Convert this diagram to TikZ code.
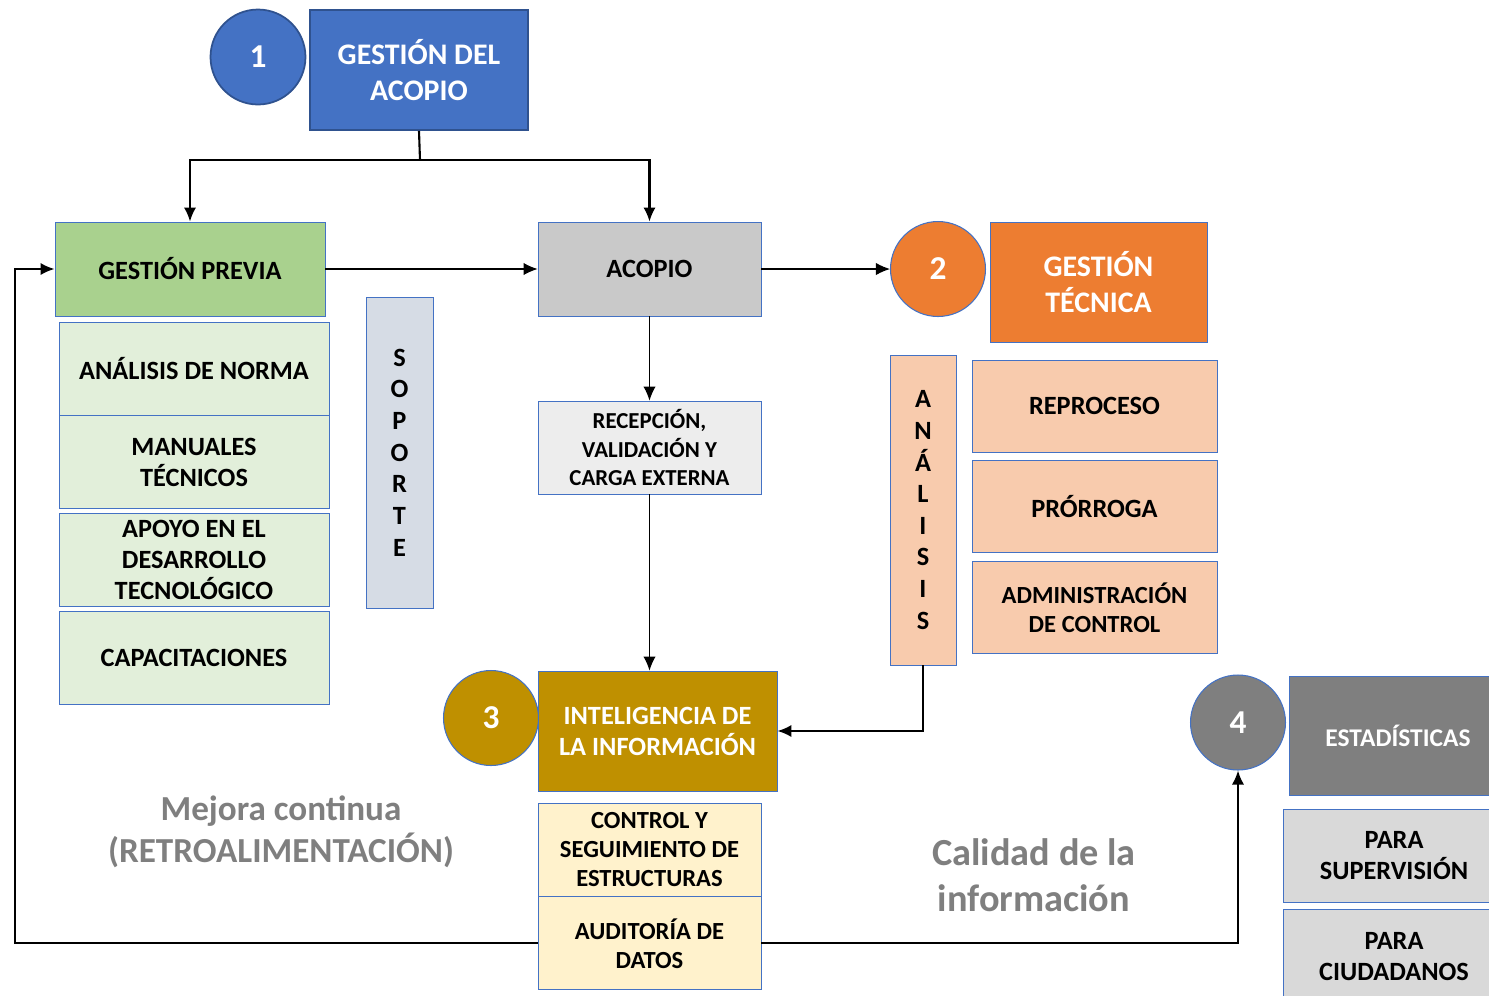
\documentclass[tikz,border=0pt]{standalone}
\usepackage{fontspec}
\setmainfont{Carlito}
\usetikzlibrary{arrows.meta,positioning}

\definecolor{azul}{HTML}{4472C4}
\definecolor{azuloscuro}{HTML}{2F528F}
\definecolor{verde}{HTML}{A9D18E}
\definecolor{verdeclaro}{HTML}{E2EFDA}
\definecolor{soporte}{HTML}{D6DCE5}
\definecolor{gris}{HTML}{C9C9C9}
\definecolor{grisclaro}{HTML}{EDEDED}
\definecolor{grismedio}{HTML}{D9D9D9}
\definecolor{grisoscuro}{HTML}{7F7F7F}
\definecolor{naranja}{HTML}{ED7D31}
\definecolor{durazno}{HTML}{F8CBAD}
\definecolor{oro}{HTML}{BF9000}
\definecolor{crema}{HTML}{FFF2CC}

\begin{document}
\begin{tikzpicture}[x=0.02cm,y=-0.02cm,>={Latex[length=8pt,width=7pt]},
  caja/.style={draw=azul,line width=0.5pt,align=center,inner sep=2pt},
  num/.style={circle,draw=azul,line width=0.6pt,minimum size=1.9cm,text=white,
    font=\bfseries\fontsize{19}{22}\selectfont},
  grande/.style={font=\bfseries\fontsize{17}{21}\selectfont},
  media/.style={font=\bfseries\fontsize{15}{17.6}\selectfont},
  chica/.style={font=\bfseries\fontsize{13}{16}\selectfont},
  letras/.style={font=\bfseries\fontsize{15}{18}\selectfont},
  nota/.style={align=center,text=grisoscuro},
  grueso/.style={line width=1.2pt},
  fino/.style={line width=0.6pt}]
  \useasboundingbox (0,0) rectangle (1489,995);
  \clip (0,0) rectangle (1489,995);

  % 1 - gestion del acopio
  \node[caja,grande,fill=azul,draw=azuloscuro,line width=1pt,text=white,
    minimum width=4.36cm,minimum height=2.4cm] (gacopio) at (419,70) {GESTIÓN DEL\\ACOPIO};
  \node[num,fill=azul,draw=azuloscuro,line width=1pt] (c1) at (258,57) {1};

  \node[caja,media,fill=verde,minimum width=5.4cm,minimum height=1.88cm] (gprevia) at (190,269) {GESTIÓN PREVIA};
  \node[caja,media,fill=verdeclaro,minimum width=5.4cm,minimum height=1.86cm] (norma) at (194,368.5) {ANÁLISIS DE NORMA};
  \node[caja,media,fill=verdeclaro,minimum width=5.4cm,minimum height=1.86cm,below=0cm of norma] (manuales) {MANUALES\\TÉCNICOS};
  \node[caja,media,fill=verdeclaro,minimum width=5.4cm,minimum height=1.86cm,below=0.08cm of manuales] (apoyo) {APOYO EN EL\\DESARROLLO\\TECNOLÓGICO};
  \node[caja,media,fill=verdeclaro,minimum width=5.4cm,minimum height=1.86cm,below=0.08cm of apoyo] (capac) {CAPACITACIONES};
  \node[caja,letras,fill=soporte,minimum width=1.34cm,minimum height=6.22cm] (soporte) at (399.5,452.5) {S\\O\\P\\O\\R\\T\\E};

  \node[caja,media,fill=gris,minimum width=4.46cm,minimum height=1.88cm] (acopio) at (649.5,269) {ACOPIO};
  \node[caja,chica,fill=grisclaro,minimum width=4.46cm,minimum height=1.86cm] (recep) at (649.5,447.5) {RECEPCIÓN,\\VALIDACIÓN Y\\CARGA EXTERNA};

  % 2 - gestion tecnica
  \node[num,fill=naranja] (c2) at (938,269) {2};
  \node[caja,grande,fill=naranja,text=white,minimum width=4.34cm,minimum height=2.4cm] (gtec) at (1098.5,282) {GESTIÓN\\TÉCNICA};
  \node[caja,letras,fill=durazno,minimum width=1.32cm,minimum height=6.2cm] (analisis) at (923,510) {A\\N\\Á\\L\\I\\S\\I\\S};
  \node[caja,media,fill=durazno,minimum width=4.9cm,minimum height=1.84cm] (reproceso) at (1094.5,406) {REPROCESO};
  \node[caja,media,fill=durazno,minimum width=4.9cm,minimum height=1.84cm,below=0.16cm of reproceso] (prorroga) {PRÓRROGA};
  \node[caja,font=\bfseries\fontsize{14}{16.5}\selectfont,fill=durazno,minimum width=4.9cm,minimum height=1.84cm,below=0.16cm of prorroga] (admin) {ADMINISTRACIÓN\\DE CONTROL};

  % 3 - inteligencia
  \node[num,fill=oro] (c3) at (491,718) {3};
  \node[caja,media,fill=oro,text=white,minimum width=4.78cm,minimum height=2.4cm] (intel) at (657.5,731) {INTELIGENCIA DE\\LA INFORMACIÓN};
  \node[caja,font=\bfseries\fontsize{14}{16.5}\selectfont,fill=crema,minimum width=4.46cm,minimum height=1.86cm] (control) at (649.5,849.5) {CONTROL Y\\SEGUIMIENTO DE\\ESTRUCTURAS};
  \node[caja,font=\bfseries\fontsize{14}{16.5}\selectfont,fill=crema,minimum width=4.46cm,minimum height=1.86cm,below=0cm of control] (auditoria) {AUDITORÍA DE\\DATOS};

  % 4 - estadisticas
  \node[num,fill=grisoscuro] (c4) at (1238,722.5) {4};
  \node[caja,font=\bfseries\fontsize{14.5}{17}\selectfont,fill=grisoscuro,text=white,minimum width=4.36cm,minimum height=2.38cm] (estad) at (1398,735.5) {ESTADÍSTICAS};
  \node[caja,media,fill=grismedio,minimum width=4.44cm,minimum height=1.86cm] (parasup) at (1394,855.5) {PARA\\SUPERVISIÓN};
  \node[caja,media,fill=grismedio,minimum width=4.44cm,minimum height=1.86cm,below=0.14cm of parasup] (paraciu) {PARA\\CIUDADANOS};

  \node[nota,font=\bfseries\fontsize{20}{24}\selectfont] (mejora) at (281,832) {Mejora continua\\(RETROALIMENTACIÓN)};
  \node[nota,font=\bfseries\fontsize{21.8}{26}\selectfont] (calidad) at (1034,875) {Calidad de la\\información};

  % conectores
  \coordinate (split) at (420,160);
  \coordinate (fb) at (15,942);
  \draw[grueso] (gacopio.south) -- (split);
  \draw[grueso,->] (split) -| (gprevia.north);
  \draw[grueso,->] (split) -| (acopio.north);
  \draw[fino,->] (gprevia.east) -- (acopio.west);
  \draw[fino,->] (acopio.east) -- (c2.west);
  \draw[fino,->] (acopio.south) -- (recep.north);
  \draw[fino,->] (recep.south) -- (recep.south |- intel.north);
  \draw[grueso,->] (analisis.south) |- (intel.east);
  \draw[grueso,->] (auditoria.west) -- (auditoria.west -| fb) |- (gprevia.west);
  \draw[grueso,->] (auditoria.east) -| (c4.south);
\end{tikzpicture}
\end{document}
